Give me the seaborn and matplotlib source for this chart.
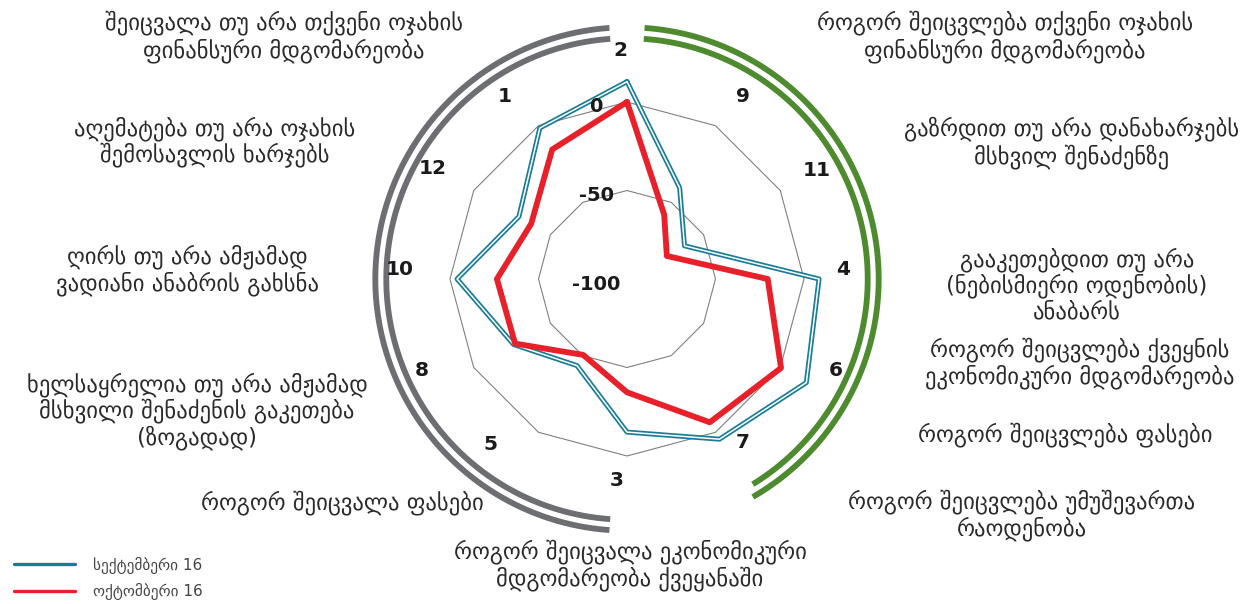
import numpy as np
import pandas as pd
import matplotlib
matplotlib.use("Agg")
import matplotlib.pyplot as plt
import matplotlib.transforms as mtransforms
import seaborn as sns

sns.set_theme(style="white")
plt.rcParams["font.family"] = ["DejaVu Sans"]

# Axis order, clockwise from the top
axis_ids = ["2", "9", "11", "4", "6", "7", "3", "5", "8", "10", "12", "1"]
sep_values = [11.5, -40.5, -62.5, 8.5, 17.0, 4.5, -13.5, -43.5, -26.0, -4.0, -29.5, -1.5]
oct_values = [0.0, -58.0, -74.0, -20.5, 0.5, -6.5, -36.0, -50.5, -27.0, -26.5, -37.5, -15.5]
series_names = ["სექტემბერი 16", "ოქტომბერი 16"]
radial_ticks = [0, -50, -100]

left_labels = [
    ("შეიცვალა თუ არა თქვენი ოჯახის\nფინანსური მდგომარეობა", 284, 37),
    ("აღემატება თუ არა ოჯახის\nშემოსავლის ხარჯებს", 215, 142),
    ("ღირს თუ არა ამჟამად\nვადიანი ანაბრის გახსნა", 187, 270),
    ("ხელსაყრელია თუ არა ამჟამად\nმსხვილი შენაძენის გაკეთება\n(ზოგადად)", 197, 411),
    ("როგორ შეიცვალა ფასები", 342, 503),
    ("როგორ შეიცვალა ეკონომიკური\nმდგომარეობა ქვეყანაში", 630, 565),
]
right_labels = [
    ("როგორ შეიცვლება თქვენი ოჯახის\nფინანსური მდგომარეობა", 1005, 37),
    ("გაზრდით თუ არა დანახარჯებს\nმსხვილ შენაძენზე", 1072, 143),
    ("გააკეთებდით თუ არა\n(ნებისმიერი ოდენობის)\nანაბარს", 1077, 285),
    ("როგორ შეიცვლება ქვეყნის\nეკონომიკური მდგომარეობა", 1080, 363),
    ("როგორ შეიცვლება ფასები", 1065, 435),
    ("როგორ შეიცვლება უმუშევართა\nრაოდენობა", 1022, 515),
]
# pixel placement of the axis numbers (x, y from top-left)
number_pos = [(620, 50), (743, 97), (817, 170), (843, 270), (836, 370), (743, 443),
              (617, 480), (490, 445), (422, 370), (400, 270), (433, 168), (505, 97)]

W, H = 1241, 604
fig = plt.figure(figsize=(W / 100, H / 100), dpi=100)
fig.patch.set_facecolor("white")

# polar axes: centre at (627, 279) px, value 0 at 177 px, -100 at the centre
cx, cy, r0 = 627, 279, 177
rmin, rmax = -100, 45
rad_px = r0 * (rmax - rmin) / 100
ax = fig.add_axes([(cx - rad_px) / W, (H - cy - rad_px) / H, 2 * rad_px / W, 2 * rad_px / H],
                  projection="polar")
ax.set_theta_zero_location("N")
ax.set_theta_direction(-1)
ax.set_ylim(rmin, rmax)
ax.grid(False)
ax.set_xticks([])
ax.set_yticks([])
ax.spines["polar"].set_visible(False)
ax.set_facecolor("none")

n = len(axis_ids)
theta = np.linspace(0, 2 * np.pi, n, endpoint=False)
theta_closed = np.append(theta, 2 * np.pi)

# polygon gridlines
for level in radial_ticks[:-1]:
    ax.plot(theta_closed, [level] * (n + 1), color="#808080", lw=0.8, zorder=1)

# radial tick labels, left of the vertical axis
offset = mtransforms.ScaledTranslation(-31 / 100, -5 / 100, fig.dpi_scale_trans)
for v in radial_ticks:
    ax.text(0, v, str(v), transform=ax.transData + offset, ha="center", va="center",
            fontsize=14, fontweight="bold", color="#1a1a1a", zorder=6)

df = pd.DataFrame({
    "theta": np.concatenate([theta_closed, theta_closed]),
    "value": sep_values + sep_values[:1] + oct_values + oct_values[:1],
    "series": [series_names[0]] * (n + 1) + [series_names[1]] * (n + 1),
})
blue, red = "#1a7d98", "#e8202a"
sep_df = df[df["series"] == series_names[0]]
oct_df = df[df["series"] == series_names[1]]
sns.lineplot(data=sep_df, x="theta", y="value", sort=False, estimator=None, ax=ax,
             color=blue, lw=3.6, label=series_names[0], zorder=3)
sns.lineplot(data=sep_df, x="theta", y="value", sort=False, estimator=None, ax=ax,
             color="white", lw=1.1, zorder=4, legend=False)
sns.lineplot(data=oct_df, x="theta", y="value", sort=False, estimator=None, ax=ax,
             color=red, lw=4.2, label=series_names[1], zorder=5)
ax.set_xlabel("")
ax.set_ylabel("")
handles, labels = ax.get_legend_handles_labels()
ax.get_legend().remove()

# axis numbers
for lab, (x, y) in zip(axis_ids, number_pos):
    fig.text(x / W, 1 - y / H, lab, ha="center", va="center",
             fontsize=14.5, fontweight="bold", color="#1a1a1a")

# double arcs grouping the questions
def arc(start_deg, end_deg, level, color):
    t = np.radians(np.linspace(start_deg, end_deg, 200))
    ax.plot(t, [level] * len(t), color=color, lw=4.2, solid_capstyle="butt", clip_on=False)

gray, green = "#6d6e71", "#4e8a2e"
arc(184, 356, 42.2, gray)
arc(184, 356, 36.0, gray)
arc(4, 150, 42.2, green)
arc(4, 148.5, 36.0, green)

# question texts
for txt, x, y in left_labels + right_labels:
    fig.text(x / W, 1 - y / H, txt, ha="center", va="center", ma="center",
             fontsize=16.3, color="#2a2a2a", linespacing=1.1)

leg = fig.legend(handles, labels, loc="upper left", bbox_to_anchor=(0 / W, 1 - 543 / H),
                 frameon=False, fontsize=11, handlelength=4.0, handletextpad=1.2,
                 labelspacing=0.6)
for line in leg.get_lines():
    line.set_linewidth(2.4)
for t in leg.get_texts():
    t.set_color("#444444")

fig.savefig("out.png", dpi=100, facecolor="white")
